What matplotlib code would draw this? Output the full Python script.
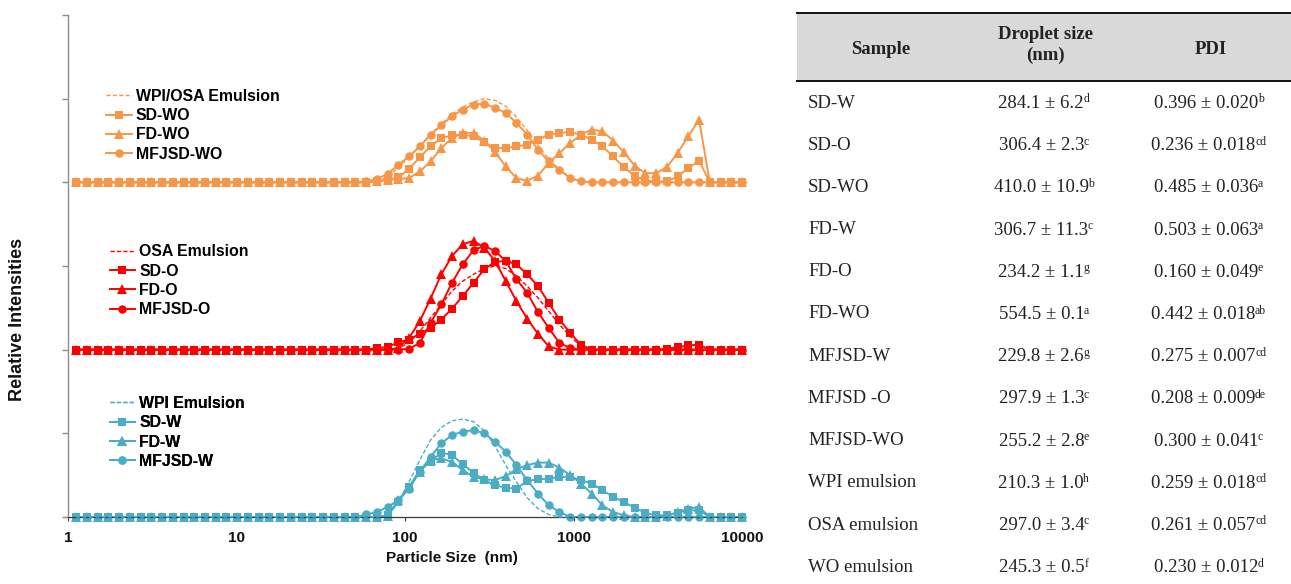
import matplotlib
matplotlib.use("Agg")
import matplotlib.pyplot as plt
from matplotlib.patches import Rectangle
from matplotlib.lines import Line2D

# ---------------- data ----------------
# DLS size bins (nm) shown on the axis (1 .. 10000)
SIZES = [1.117, 1.294, 1.499, 1.736, 2.010, 2.328, 2.696, 3.122, 3.615, 4.187,
         4.849, 5.615, 6.503, 7.531, 8.721, 10.10, 11.70, 13.54, 15.69, 18.17,
         21.04, 24.36, 28.21, 32.67, 37.84, 43.82, 50.75, 58.77, 68.06, 78.82,
         91.28, 105.7, 122.4, 141.8, 164.2, 190.1, 220.2, 255.0, 295.3, 342.0,
         396.1, 458.7, 531.2, 615.1, 712.4, 825.0, 955.4, 1106, 1281, 1484,
         1718, 1990, 2305, 2669, 3091, 3580, 4145, 4801, 5560, 6439,
         7456, 8635, 10000]

LOW = [0] * 27  # bins 1.117 .. 50.75 nm: zero intensity for every sample

# WPI group (values from 58.77 nm upward)
WPI_EMULSION = LOW + [0, 0, 0.2, 1.8, 4.2, 6.8, 9.2, 10.7, 11.5, 11.7, 11.4, 10.3, 8.5, 6.2,
                      4.2, 2.3, 1.0, 0.3, 0, 0, 0, 0, 0, 0, 0, 0, 0, 0, 0, 0, 0, 0, 0, 0, 0, 0]
SD_W = LOW + [0, 0, 0.2, 1.8, 3.6, 5.6, 6.6, 7.7, 7.4, 6.3, 5.3, 4.4, 3.8, 3.5,
              3.4, 4.3, 4.5, 4.6, 4.8, 4.8, 4.4, 4.0, 3.2, 2.4, 1.8, 1.1, 0.5, 0.2, 0.2, 0.5, 0.8, 0.8, 0, 0, 0, 0]
FD_W = LOW + [0, 0, 0.1, 2.0, 3.6, 5.4, 6.8, 7.0, 6.6, 5.6, 4.8, 4.5, 4.4, 4.9,
              5.7, 6.2, 6.5, 6.5, 5.9, 5.0, 4.0, 2.8, 1.4, 0.6, 0.2, 0, 0, 0, 0.1, 0.6, 1.0, 1.2, 0, 0, 0, 0]
MFJSD_W = LOW + [0.3, 0.6, 1.2, 2.0, 3.4, 5.4, 7.2, 8.8, 9.8, 10.2, 10.4, 10.0, 9.0, 7.8,
                 6.2, 4.4, 2.8, 1.4, 0.6, 0, 0, 0, 0, 0, 0, 0, 0, 0, 0, 0, 0, 0, 0, 0, 0, 0]

# OSA group
OSA_EMULSION = LOW + [0, 0, 0, 0.2, 0.8, 2.2, 3.8, 5.4, 7.0, 8.2, 9.0, 9.7, 10.0, 9.7,
                      8.8, 7.6, 6.2, 4.6, 3.0, 1.6, 0.4, 0, 0, 0, 0, 0, 0, 0, 0, 0, 0, 0, 0, 0, 0, 0]
SD_O = LOW + [0, 0.2, 0.3, 0.9, 1.2, 1.9, 2.6, 3.6, 4.9, 6.4, 8.0, 9.6, 10.5, 10.6,
              10.2, 9.0, 7.6, 5.6, 3.6, 2.0, 0.6, 0, 0, 0, 0, 0, 0, 0, 0.1, 0.3, 0.5, 0.6, 0, 0, 0, 0]
FD_O = LOW + [0, 0, 0, 0.2, 1.4, 3.4, 6.1, 9.0, 11.2, 12.6, 13.0, 12.2, 10.6, 8.2,
              5.8, 3.7, 1.9, 0.4, 0, 0, 0, 0, 0, 0, 0, 0, 0, 0, 0, 0, 0, 0, 0, 0, 0, 0]
MFJSD_O = LOW + [0, 0, 0, 0, 0.1, 0.8, 3.2, 5.4, 8.0, 10.2, 11.9, 12.4, 11.8, 10.6,
                 8.4, 6.8, 4.5, 2.6, 0.8, 0.2, 0, 0, 0, 0, 0, 0, 0, 0, 0, 0, 0, 0, 0, 0, 0, 0]

# WPI/OSA group
WO_EMULSION = LOW + [0, 0.2, 0.6, 1.8, 3.0, 4.3, 5.7, 7.0, 8.1, 9.0, 9.6, 10.0, 9.8, 9.1,
                     7.8, 6.2, 4.4, 2.8, 1.5, 0.6, 0.1, 0, 0, 0, 0, 0, 0, 0, 0, 0, 0, 0, 0, 0, 0, 0]
SD_WO = LOW + [0, 0.1, 0.3, 0.6, 1.6, 3.0, 4.3, 5.3, 5.6, 5.7, 5.5, 4.8, 4.1, 4.1,
               4.3, 4.5, 5.1, 5.7, 5.9, 6.0, 5.7, 5.1, 4.3, 3.1, 1.8, 0.8, 0.2, 0.1, 0.1, 0.7, 1.7, 2.6, 0, 0, 0, 0]
FD_WO = LOW + [0, 0.1, 0.3, 0.4, 0.5, 1.3, 2.5, 4.1, 5.3, 5.9, 5.9, 5.0, 3.6, 1.9,
               0.5, 0.2, 0.8, 2.3, 3.5, 4.7, 5.7, 6.3, 6.1, 5.0, 3.6, 2.0, 1.1, 1.1, 1.8, 3.5, 5.5, 7.5, 0, 0, 0, 0]
MFJSD_WO = LOW + [0.1, 0.4, 1.0, 2.1, 3.1, 4.3, 5.7, 6.8, 7.9, 8.7, 9.3, 9.4, 8.9, 8.3,
                  7.1, 5.7, 3.9, 2.5, 1.5, 0.5, 0.1, 0, 0, 0, 0, 0, 0, 0, 0, 0, 0, 0, 0, 0, 0, 0]

GROUPS = [
    # (emulsion label, emulsion data, [(label, data), ...], colour, baseline offset)
    ("WPI/OSA Emulsion", WO_EMULSION, [("SD-WO", SD_WO), ("FD-WO", FD_WO), ("MFJSD-WO", MFJSD_WO)], "#F79646", 40),
    ("OSA Emulsion", OSA_EMULSION, [("SD-O", SD_O), ("FD-O", FD_O), ("MFJSD-O", MFJSD_O)], "#FF0000", 20),
    ("WPI Emulsion", WPI_EMULSION, [("SD-W", SD_W), ("FD-W", FD_W), ("MFJSD-W", MFJSD_W)], "#4BACC6", 0),
]
MARKERS = ["s", "^", "o"]
XTICKS = [1, 10, 100, 1000, 10000]
XTICKLABELS = ["1", "10", "100", "1000", "10000"]

TABLE_HEADER = ["Sample", "Droplet size\n(nm)", "PDI"]
TABLE_SAMPLES = ["SD-W", "SD-O", "SD-WO", "FD-W", "FD-O", "FD-WO", "MFJSD-W",
                 "MFJSD -O", "MFJSD-WO", "WPI emulsion", "OSA emulsion", "WO emulsion"]
TABLE_SIZE = ["284.1 ± 6.2", "306.4 ± 2.3", "410.0 ± 10.9", "306.7 ± 11.3", "234.2 ± 1.1",
              "554.5 ± 0.1", "229.8 ± 2.6", "297.9 ± 1.3", "255.2 ± 2.8", "210.3 ± 1.0",
              "297.0 ± 3.4", "245.3 ± 0.5"]
TABLE_SIZE_SUP = ["d", "c", "b", "c", "g", "a", "g", "c", "e", "h", "c", "f"]
TABLE_PDI = ["0.396 ± 0.020", "0.236 ± 0.018", "0.485 ± 0.036", "0.503 ± 0.063", "0.160 ± 0.049",
             "0.442 ± 0.018", "0.275 ± 0.007", "0.208 ± 0.009", "0.300 ± 0.041", "0.259 ± 0.018",
             "0.261 ± 0.057", "0.230 ± 0.012"]
TABLE_PDI_SUP = ["b", "cd", "a", "a", "e", "ab", "cd", "de", "c", "cd", "cd", "d"]

# ---------------- figure ----------------
W, H = 1291, 584
fig = plt.figure(figsize=(W / 100, H / 100), dpi=100)
plt.rcParams["font.family"] = ["Liberation Sans", "DejaVu Sans"]


def fx(px):
    return px / W


def fy(py):
    return 1 - py / H


ax = fig.add_axes([fx(68), fy(517), fx(742) - fx(68), fy(15) - fy(517)])
ax.set_xscale("log")
ax.set_xlim(1, 10000)
ax.set_ylim(0, 60)

legend_tops = [0.853, 0.543, 0.241]
legend_x = [0.057, 0.062, 0.062]

for gi, (em_label, em_data, samples, color, off) in enumerate(GROUPS):
    handles = []
    h, = ax.plot(SIZES, [v + off for v in em_data], color=color, lw=1.0,
                 linestyle=(0, (3, 1.6)), clip_on=False, zorder=3, label=em_label)
    handles.append(h)
    for (lab, data), mk in zip(samples, MARKERS):
        ms = 6.6 if mk == "^" else 6.1
        h, = ax.plot(SIZES, [v + off for v in data], color=color, lw=1.4,
                     marker=mk, markersize=ms, markeredgewidth=0,
                     clip_on=False, zorder=2, label=lab)
        handles.append(h)
    leg = ax.legend(handles=handles, loc="upper left",
                    bbox_to_anchor=(legend_x[gi], legend_tops[gi]),
                    frameon=False, borderpad=0, borderaxespad=0,
                    handlelength=1.6, handletextpad=0.25, labelspacing=0.27,
                    numpoints=1, prop={"family": "Liberation Sans", "weight": "bold", "size": 11.4})
    ax.add_artist(leg)

ax.spines["top"].set_visible(False)
ax.spines["right"].set_visible(False)
ax.spines["left"].set_color("#8c8c8c")
ax.spines["left"].set_linewidth(1.0)
ax.spines["bottom"].set_color("#3a3a3a")
ax.spines["bottom"].set_linewidth(0.9)

ax.set_yticks([0, 10, 20, 30, 40, 50, 60])
ax.set_yticklabels([])
ax.tick_params(axis="y", direction="out", length=4, width=1, color="#8c8c8c")
ax.set_xticks(XTICKS)
ax.set_xticklabels(XTICKLABELS)
ax.xaxis.set_minor_locator(matplotlib.ticker.NullLocator())
ax.tick_params(axis="x", direction="out", length=3, width=0.8, color="#3a3a3a",
               labelsize=11, pad=7)
for t in ax.get_xticklabels():
    t.set_fontweight("bold")
    t.set_color("#111111")

fig.text(fx(452), fy(558), "Particle Size  (nm)", ha="center", va="center",
         fontsize=11, fontweight="bold", color="#111111")
fig.text(fx(18), fy(319), "Relative Intensities", ha="center", va="center",
         rotation=90, fontsize=13, fontweight="bold", color="#111111")

# ---------------- table ----------------
serif = ["Liberation Serif", "DejaVu Serif"]
TXT = "#222222"
fig.patches.append(Rectangle((fx(797), fy(81)), fx(1291) - fx(797), fy(13) - fy(81),
                             transform=fig.transFigure, facecolor="#d9d9d9",
                             edgecolor="none", zorder=0))
fig.add_artist(Line2D([fx(797), 1.0], [fy(13), fy(13)], color="#111111", lw=1.4))
fig.add_artist(Line2D([fx(797), 1.0], [fy(81), fy(81)], color="#111111", lw=1.4))

fig.text(fx(881), fy(50), TABLE_HEADER[0], ha="center", va="center",
         family=serif, fontweight="bold", fontsize=13.5, color=TXT)
fig.text(fx(1045), fy(45), TABLE_HEADER[1], ha="center", va="center",
         family=serif, fontweight="bold", fontsize=13.5, color=TXT,
         linespacing=1.3)
fig.text(fx(1211), fy(50), TABLE_HEADER[2], ha="center", va="center",
         family=serif, fontweight="bold", fontsize=13.5, color=TXT)

renderer = fig.canvas.get_renderer()
MAIN_FS, SUP_FS = 13.5, 8.5


def value_with_sup(xc, y, main, sup):
    """Main text plus a small raised letter, the pair centred on xc (pixels)."""
    t_main = fig.text(0, fy(y), main, ha="left", va="baseline", family=serif,
                      fontsize=MAIN_FS, color=TXT)
    t_sup = fig.text(0, fy(y), sup, ha="left", va="baseline", family=serif,
                     fontsize=SUP_FS, color=TXT)
    wm = t_main.get_window_extent(renderer).width
    ws = t_sup.get_window_extent(renderer).width
    x0 = xc - (wm + ws) / 2
    base = y + 5  # baseline of main text (pixels from top)
    t_main.set_position((fx(x0), fy(base)))
    t_sup.set_position((fx(x0 + wm - 0.6), fy(base - 5.5)))


for i, (s, sz, szs, pdi, pdis) in enumerate(zip(TABLE_SAMPLES, TABLE_SIZE, TABLE_SIZE_SUP,
                                                 TABLE_PDI, TABLE_PDI_SUP)):
    y = 103 + 42.2 * i
    fig.text(fx(808), fy(y), s, ha="left", va="center", family=serif,
             fontsize=MAIN_FS, color=TXT)
    value_with_sup(1044, y, sz, szs)
    value_with_sup(1209, y, pdi, pdis)

fig.savefig("out.png", dpi=100)
